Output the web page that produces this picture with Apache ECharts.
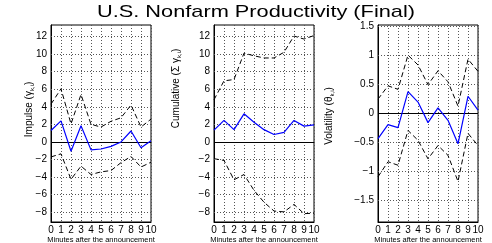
<!DOCTYPE html>
<html>
<head>
<meta charset="utf-8">
<script src="https://cdn.jsdelivr.net/npm/echarts@6/dist/echarts.min.js"></script>
<style>
  html, body { margin: 0; padding: 0; background: #fff; }
  #chart { width: 492px; height: 243px; }
</style>
</head>
<body>
<div id="chart"></div>
<script>
// minutes after the announcement
const minutes = [0, 1, 2, 3, 4, 5, 6, 7, 8, 9, 10];

// impulse panel: estimate and upper / lower bands
const impulseMid = [1.3, 2.4, -1.05, 1.85, -0.9, -0.8, -0.5, 0.0, 1.25, -0.65, 0.15];
const impulseUp = [4.3, 6.05, 2.05, 5.4, 2.0, 1.7, 2.35, 2.75, 4.2, 1.7, 2.6];
const impulseLo = [-1.7, -1.35, -4.25, -2.75, -3.7, -3.4, -3.25, -2.35, -1.65, -2.85, -2.3];

// cumulative panel
const cumMid = [1.35, 2.45, 1.4, 3.2, 2.25, 1.4, 0.85, 1.1, 2.45, 1.8, 1.95];
const cumUp = [4.8, 6.95, 7.1, 10.1, 9.8, 9.55, 9.55, 10.2, 12.05, 11.7, 12.1];
const cumLo = [-1.9, -2.1, -4.3, -3.7, -5.5, -6.85, -7.85, -7.95, -7.1, -8.15, -8.1];

// volatility panel
const volMid = [-0.43, -0.19, -0.24, 0.38, 0.2, -0.155, 0.1, -0.115, -0.52, 0.3, 0.06];
const volUp = [0.25, 0.48, 0.42, 1.01, 0.84, 0.5, 0.74, 0.55, 0.13, 0.94, 0.73];
const volLo = [-1.09, -0.83, -0.89, -0.29, -0.46, -0.78, -0.55, -0.72, -1.17, -0.34, -0.55];

// tick labels
const levelTicks = [-8, -6, -4, -2, 0, 2, 4, 6, 8, 10, 12];
const volTicks = [-1.5, -1, -0.5, 0, 0.5, 1, 1.5];

const FONT = 'Liberation Sans';
const pair = arr => minutes.map((m, i) => [m, arr[i]]);
const minus = v => String(v).replace('-', '\u2212');

const panels = [
  { left: 51, mid: impulseMid, up: impulseUp, lo: impulseLo, min: -9.1, max: 13.3, ticks: levelTicks,
    name: 'Impulse (γ{sub|k,i})', gap: 16, pad: [0, 0, 0, 28] },
  { left: 214, mid: cumMid, up: cumUp, lo: cumLo, min: -9.1, max: 13.3, ticks: levelTicks,
    name: 'Cumulative (Σ γ{sub|k,i})', gap: 32, pad: [0, 0, 0, 70] },
  { left: 378, mid: volMid, up: volUp, lo: volLo, min: -1.87, max: 1.53, ticks: volTicks,
    name: 'Volatility (θ{sub|k,i})', gap: 43, pad: [0, 0, 0, 15] }
];

const dotted = { color: '#555', type: [1, 2], width: 1 };
const grid = [], xAxis = [], yAxis = [], series = [];

panels.forEach((p, k) => {
  grid.push({
    left: p.left, top: 25, width: 100, height: 197, outerBoundsMode: 'none',
    show: true, borderColor: '#000', borderWidth: 1, backgroundColor: 'transparent'
  });
  xAxis.push({
    type: 'value', gridIndex: k, min: 0, max: 10, interval: 1,
    name: 'Minutes after the announcement', nameLocation: 'middle', nameGap: 14,
    nameMoveOverlap: false,
    nameTextStyle: { fontFamily: FONT, fontSize: 7.5, color: '#000' },
    axisLine: { onZero: false, lineStyle: { color: '#000', width: 1 } },
    axisTick: { show: false },
    axisLabel: { fontFamily: FONT, fontSize: 10, color: '#000', margin: 3 },
    splitLine: { show: true, lineStyle: dotted }
  });
  yAxis.push({
    type: 'value', gridIndex: k, min: p.min, max: p.max,
    name: p.name, nameLocation: 'middle', nameGap: p.gap, nameRotate: 90,
    nameMoveOverlap: false,
    nameTextStyle: {
      fontFamily: FONT, fontSize: 10, color: '#000', padding: p.pad,
      rich: { sub: { fontFamily: FONT, fontSize: 6, color: '#000', padding: [6, 0, 0, 0] } }
    },
    axisLine: { show: true, lineStyle: { color: '#000', width: 1 } },
    axisTick: { show: false, customValues: p.ticks },
    axisLabel: { fontFamily: FONT, fontSize: 10, color: '#000', margin: 4,
      customValues: p.ticks, formatter: minus },
    splitLine: { show: false }
  });
  series.push({
    type: 'line', xAxisIndex: k, yAxisIndex: k, data: pair(p.up),
    symbol: 'none', lineStyle: { color: '#000', width: 1, type: [5, 3] }, silent: true
  });
  series.push({
    type: 'line', xAxisIndex: k, yAxisIndex: k, data: pair(p.lo),
    symbol: 'none', lineStyle: { color: '#000', width: 1, type: [5, 3] }, silent: true
  });
  series.push({
    type: 'line', xAxisIndex: k, yAxisIndex: k, data: pair(p.mid), z: 3,
    symbol: 'none', lineStyle: { color: '#0000ff', width: 1.2 }, silent: true,
    markLine: {
      silent: true, symbol: 'none', label: { show: false }, z: 1,
      lineStyle: dotted,
      // horizontal grid at each tick, solid at zero
      data: p.ticks.map(v => v === 0
        ? { yAxis: v, lineStyle: { color: '#000', width: 1, type: 'solid' } }
        : { yAxis: v })
    }
  });
});

const chart = echarts.init(document.getElementById('chart'), null, { renderer: 'canvas' });
chart.setOption({
  animation: false,
  backgroundColor: '#fff',
  graphic: [{
    type: 'text', x: 256, y: 12, scaleX: 1.28, silent: true,
    style: {
      text: 'U.S. Nonfarm Productivity (Final)', fill: '#000',
      font: '17px "Liberation Sans"', textAlign: 'center', textVerticalAlign: 'middle'
    }
  }],
  grid: grid,
  xAxis: xAxis,
  yAxis: yAxis,
  series: series
});
</script>
</body>
</html>
